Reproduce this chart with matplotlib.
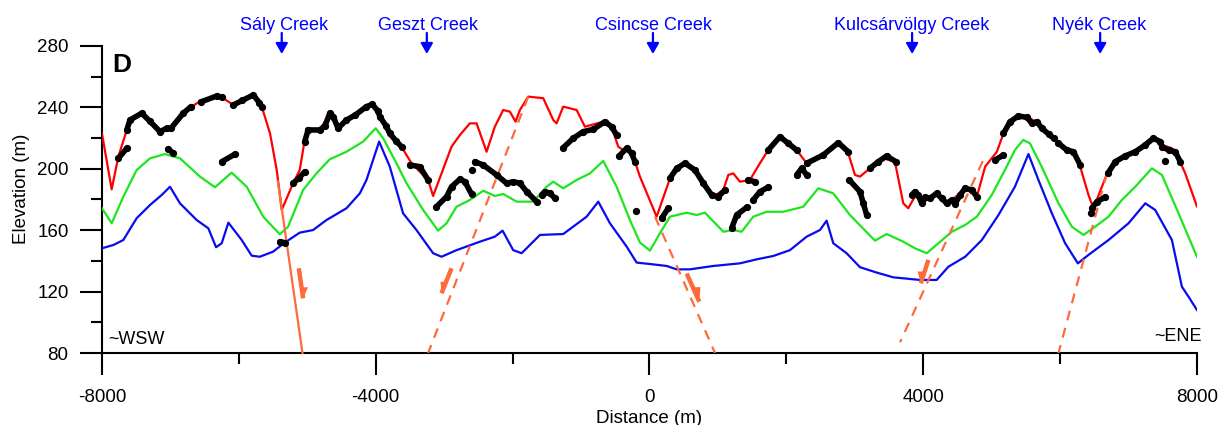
import matplotlib
matplotlib.use("Agg")
from matplotlib import pyplot as plt
import numpy as np

plt.rcParams['font.family'] = ['Liberation Sans', 'DejaVu Sans']
plt.rcParams['axes.unicode_minus'] = False

# topographic profile (red)
red_x = [-8000, -7858, -7760, -7637, -7590, -7420, -7152, -6957, -6811, -6615, -6323, -6250,
         -6080, -5788, -5665, -5544, -5446, -5373, -5207, -5110, -5037, -4988, -4817, -4671,
         -4550, -4427, -4135, -4050, -3965, -3940, -3794, -3623, -3477, -3234, -3161, -3038,
         -2892, -2770, -2624, -2526, -2380, -2259, -2137, -2039, -1956, -1893, -1771, -1552,
         -1406, -1357, -1260, -1064, -943, -675, -553, -456, -383, -285, -212, -139, 105,
         300, 519, 787, 933, 1079, 1152, 1225, 1322, 1468, 1614, 1736, 1907, 2151, 2297,
         2540, 2783, 2905, 3003, 3076, 3222, 3416, 3587, 3709, 3782, 3904, 3977, 4174, 4368,
         4613, 4784, 4905, 5076, 5173, 5295, 5442, 5563, 5661, 5831, 5977, 6172, 6294, 6415,
         6488, 6611, 6708, 6903, 7098, 7293, 7390, 7488, 7634, 7731, 7829, 8000]
red_y = [223, 186.6, 208, 225.3, 231.8, 236.2, 224.2, 227.4, 236.2, 242.7, 247.4, 246.6,
         241.6, 248.1, 240.5, 223, 199.2, 173.2, 190.6, 199.2, 218.8, 225.3, 225.3, 236.2,
         226.4, 231.8, 240.5, 242, 237.5, 234, 223, 214.4, 203.6, 192.7, 182.3, 197,
         214.4, 222, 229.6, 229.6, 211.1, 227.4, 238.3, 237.2, 230.7, 238.3, 247, 246,
         231.8, 229.6, 240.5, 238.3, 227.4, 230.7, 227.4, 214.4, 212.2, 212.2, 204.6, 194.9, 168.8,
         193.8, 203.6, 192.7, 181.8, 186.2, 196, 197, 191.6, 192.7, 203.6, 212.2, 220.9, 212.2, 203.6,
         209, 216.6, 210.1, 196, 194.9, 200.3, 206.8, 204.6, 177.5, 174.3, 184, 177.5, 183, 177.5,
         187.3, 181.8, 201.4, 211.1, 223, 231.8, 234.4, 232.9, 230, 222, 216.6, 211.1, 201.4, 183,
         174.3, 188.3, 199.2, 207.9, 211.1, 218.8, 220.5, 215.5, 213.4, 206.8, 197, 175.5]

# green surface
green_x = [-8000, -7858, -7688, -7493, -7298, -7079, -6860, -6567, -6348, -6105, -5885, -5643,
           -5401, -5280, -5061, -4866, -4671, -4427, -4184, -4000, -3891, -3696, -3550, -3307,
           -3088, -2965, -2819, -2624, -2429, -2259, -2137, -1941, -1698, -1503, -1406, -1260,
           -1064, -870, -675, -480, -285, -139, 7, 153, 300, 544, 690, 811, 1079, 1225, 1347,
           1517, 1712, 1956, 2248, 2467, 2686, 2929, 3295, 3466, 3709, 3880, 4051, 4222, 4418,
           4613, 4784, 5003, 5194, 5340, 5462, 5560, 5731, 5977, 6172, 6342, 6513, 6708, 6903,
           7098, 7342, 7488, 7731, 8000]
green_y = [174.3, 164.5, 181.8, 199.2, 206.8, 209.6, 206.8, 194.9, 188, 197.5, 188.3, 168.8,
           157.3, 162.3, 186.2, 197, 206.2, 211.1, 217.7, 226.4, 219.9, 203.6, 190.6, 173.2,
           159.7, 164.5, 175.3, 179.7, 185.7, 182.3, 183.6, 178.6, 178.6, 188.3, 191.6, 187.3,
           192.7, 197, 205.1, 188.3, 166.6, 152, 146.7, 158, 168.8, 171.4, 169.9, 171.4, 159, 160.1, 159,
           168.8, 172, 172, 175.3, 187.3, 184, 169.9, 153.2, 157.5, 152.5, 148.2, 145, 151.5, 159,
           163.4, 168.8, 183, 199.2, 212.2, 218.8, 216.6, 201.4, 177.5, 162.3, 156.9, 162.3, 168.8, 179.7,
           188.3, 200.3, 196, 171, 142.7]

# blue surface
blue_x = [-8000, -7831, -7688, -7493, -7298, -7128, -7006, -6860, -6615, -6445, -6333, -6250,
          -6153, -5958, -5812, -5694, -5500, -5329, -5110, -4915, -4720, -4427, -4232, -4135,
          -3950, -3794, -3600, -3404, -3161, -3038, -2819, -2478, -2259, -2146, -1991, -1868,
          -1600, -1260, -918, -748, -577, -333, -187, 0, 251, 397, 592, 933, 1322, 1566, 1809,
          2053, 2297, 2491, 2589, 2686, 2881, 3076, 3320, 3563, 3952, 4197, 4368, 4613, 4857,
          5100, 5340, 5538, 5684, 5880, 6074, 6260, 6415, 6708, 7000, 7245, 7390, 7634, 7780,
          7877, 8000]
blue_y = [148.2, 150.4, 153.6, 167.8, 176.4, 182.9, 188.3, 177.5, 166.6, 161.2, 148.9, 151.5,
          164.9, 153.6, 143.4, 142.7, 146, 151.9, 158.4, 160.1, 166.6, 174.3, 184, 192.7,
          217.7, 201.4, 171, 160.1, 145, 142.7, 147, 152.5, 155.8, 159.7, 147, 145,
          156.9, 157.5, 168.8, 178.6, 164.5, 149.3, 138.9, 138, 136.7, 134.5, 134.5, 136.7, 138.4, 141, 143.2,
          147, 155.8, 160.1, 166.2, 151.5, 145, 135.9, 132.4, 129.3, 127.6, 127.6, 136.2, 142.7, 153.6,
          169.9, 188.3, 209.6, 192.7, 171, 151.5, 138.4, 143.9, 153.6, 164.5, 177.5, 173.2, 153.6, 123.2,
          116.7, 108]

# black dotted remnants (nan separates pieces)
nan = np.nan
dots_x = [-7760, -7637, nan,
          -7637, -7590, -7420, -7300, -7152, -7050, nan,
          -6990, -6811, -6700, nan,
          -6560, -6323, -6250, nan,
          -6080, -5950, -5788, -5700, -5665, nan,
          -7035, -6957, nan,
          -6250, -6054, nan,
          -5207, -5120, -5037, nan,
          -5037, -4988, nan,
          -4988, -4817, -4740, -4671, -4620, -4550, -4427, -4300, -4135, -4050, -3965, -3940,
          -3850, -3794, -3700, -3623, nan,
          -3502, -3356, -3234, nan,
          -3112, -2965, -2892, -2770, -2697, -2600, nan,
          -2551, -2429, -2234, -2088, -1991, -1893, -1794, -1648, nan,
          -1575, -1527, -1454, -1381, nan,
          -1268, -1114, -967, -821, -650, -553, -480, nan,
          -441, -333, -260, -212, nan,
          178, 275, nan,
          300, 397, 519, 665, 787, 909, 1006, 1103, nan,
          1443, 1541, nan,
          1517, 1614, 1736, nan,
          1201, 1274, 1420, nan,
          1736, 1907, 2028, 2151, nan,
          2151, 2224, 2297, nan,
          2297, 2540, 2759, 2905, nan,
          2920, 3076, 3125, 3174, nan,
          3222, 3343, 3466, 3602, nan,
          3831, 3880, 3928, 3977, 4026, 4099, 4197, 4270, 4343, 4418, 4465, 4539, 4613, 4710, 4784, nan,
          5051, 5173, nan,
          5173, 5270, 5392, 5515, 5588, 5661, 5734, 5831, 5904, nan,
          5977, 6099, 6196, 6294, nan,
          6465, 6538, 6659, nan,
          6699, 6806, 6952, 7098, 7244, 7365, 7463, nan,
          7488, 7585, 7683, 7756, nan,
          -5400, -5330]
dots_y = [206.8, 213.4, nan,
          225.3, 231.8, 236.2, 231, 224.2, 226.5, nan,
          226.5, 236.2, 240.5, nan,
          243.5, 247.4, 246.6, nan,
          241.6, 244.5, 248.1, 243, 240.5, nan,
          212.9, 210.2, nan,
          204.6, 209.6, nan,
          190.6, 194, 198.1, nan,
          217.7, 225.3, nan,
          225.3, 225.3, 228, 236.2, 234, 226.4, 231.8, 235, 240.5, 242, 237.5, 234,
          228, 223, 218, 214.4, nan,
          202.5, 201.4, 192.7, nan,
          175.3, 181.8, 188.3, 193.2, 191.6, 183.6, nan,
          204.6, 202.5, 196, 190.6, 191.6, 190.6, 185.1, 178.6, nan,
          182.9, 185.1, 184, 180.8, nan,
          213.4, 219.9, 224.2, 225.7, 230.7, 227.4, 222, nan,
          208.4, 213.4, 210.1, 204.6, nan,
          167.8, 174.3, nan,
          193.8, 200.3, 203.6, 199.2, 190.6, 182.9, 181.8, 186.2, nan,
          192.7, 191.6, nan,
          179.7, 185.1, 188, nan,
          161.2, 169.9, 174.9, nan,
          212.2, 220.9, 216.6, 212.2, nan,
          196, 200.3, 196, nan,
          203.6, 209, 217, 211.1, nan,
          192.7, 185.1, 177.5, 169.9, nan,
          200.3, 204.6, 208.4, 204.6, nan,
          182.9, 185.1, 182.9, 177.5, 181.4, 180.8, 184, 180.8, 177.5, 179.7, 177.1, 182.9, 187.3, 186.2, 181.8, nan,
          205.7, 209, nan,
          223, 230.7, 234.4, 233.5, 229.6, 230.7, 226.4, 222.7, 219.9, nan,
          216.6, 212.2, 211.1, 202.5, nan,
          174.3, 178.6, 181.4, nan,
          197, 204.6, 208.4, 211.1, 215.5, 219.9, 217.7, nan,
          214.4, 212.2, 211.1, 204.6, nan,
          152.5, 151.9]
single_x = [-2600, -197, 6455, 7526]
single_y = [199.2, 172.5, 171, 205.3]

# faults
fault_solid_x = [-5430, -5070]
fault_solid_y = [192, 80]
dashed_faults = [([-1771, -3234], [247, 80]),
                 ([80, 958], [169, 80]),
                 ([4870, 3662], [205, 87]),
                 ([6684, 5977], [197, 80])]
# half arrows: shaft start->tip, head polygon (tip, barb, shaft point)
slip_shafts = [([-5124, -5061], [135.2, 115.6]),
               ([-2892, -3038], [135.2, 118.9]),
               ([544, 728], [131.8, 113.4]),
               ([4076, 3965], [140.6, 125.4])]
slip_heads = [([-5061, -4988, -5085], [115.6, 122.8, 122.8]),
              ([-3038, -3053, -2971], [118.9, 126.4, 126.4]),
              ([728, 746, 643], [113.4, 122.9, 122.9]),
              ([3965, 3918, 4020], [125.4, 133.1, 133.1])]

creek_names = ['Sály Creek', 'Geszt Creek', 'Csincse Creek', 'Kulcsárvölgy Creek', 'Nyék Creek']
creek_label_x = [-5344, -3238, 66, 3838, 6571]
creek_arrow_x = [-5373, -3253, 51, 3838, 6586]

fault_col = '#ff6a3a'

fig = plt.figure(figsize=(12.21, 4.25), dpi=100)
ax = fig.add_axes([0.0835, 0.1694, 0.8968, 0.7224])

ax.plot(blue_x, blue_y, color='#0a0af0', lw=1.6, zorder=3)
ax.plot(green_x, green_y, color='#1ee61e', lw=1.6, zorder=3)
ax.plot(red_x, red_y, color='#ff0000', lw=1.6, zorder=3)

ax.plot(fault_solid_x, fault_solid_y, color=fault_col, lw=1.6, zorder=4, clip_on=False)
for fx, fy in dashed_faults:
    ax.plot(fx, fy, color=fault_col, lw=1.6, dashes=(4.5, 3.5), zorder=4)
for sx, sy in slip_shafts:
    ax.plot(sx, sy, color=fault_col, lw=3.2, solid_capstyle='butt', zorder=4)
for hx, hy in slip_heads:
    ax.fill(hx, hy, color=fault_col, lw=0, zorder=4)

ax.plot(dots_x, dots_y, color='black', lw=4.0, marker='o', ms=4.2,
        solid_capstyle='round', zorder=5)
ax.scatter(single_x, single_y, s=18, color='black', zorder=5)

for name, lx, axx in zip(creek_names, creek_label_x, creek_arrow_x):
    ax.text(lx, 290.7, name, color='#0000ff', fontsize=13, ha='center', va='baseline')
    ax.annotate('', xy=(axx, 274.8), xytext=(axx, 288.5), xycoords='data',
                arrowprops=dict(arrowstyle='-|>,head_length=0.35,head_width=0.2',
                                color='#0000ff', lw=1.6, mutation_scale=18,
                                shrinkA=0, shrinkB=0),
                annotation_clip=False)

ax.text(-7854, 275.5, 'D', fontsize=19, fontweight='bold', ha='left', va='top')
ax.text(-7915, 86, '~WSW', fontsize=13, ha='left', va='baseline')
ax.text(8070, 88, '~ENE', fontsize=13, ha='right', va='baseline')

ax.set_xlim(-8000, 8000)
ax.set_ylim(80, 280)
ax.set_xticks([-8000, -4000, 0, 4000, 8000])
ax.set_xticks([-6000, -2000, 2000, 6000], minor=True)
ax.set_yticks([80, 120, 160, 200, 240, 280])
ax.set_yticks([100, 140, 180, 220, 260], minor=True)
for s in ['top', 'right']:
    ax.spines[s].set_visible(False)
for s in ['left', 'bottom']:
    ax.spines[s].set_linewidth(1.5)
ax.tick_params(which='major', length=16, width=1.5, labelsize=13.5, colors='black')
ax.tick_params(which='minor', length=8, width=1.5)
ax.tick_params(axis='x', which='major', pad=10)
ax.tick_params(axis='y', which='major', pad=8)

ax.set_xlabel('Distance (m)', fontsize=13.5, labelpad=3)
ax.set_ylabel('Elevation (m)', fontsize=13.5)
ax.yaxis.set_label_coords(-0.066, 0.535)

fig.savefig('out.png', dpi=100)
